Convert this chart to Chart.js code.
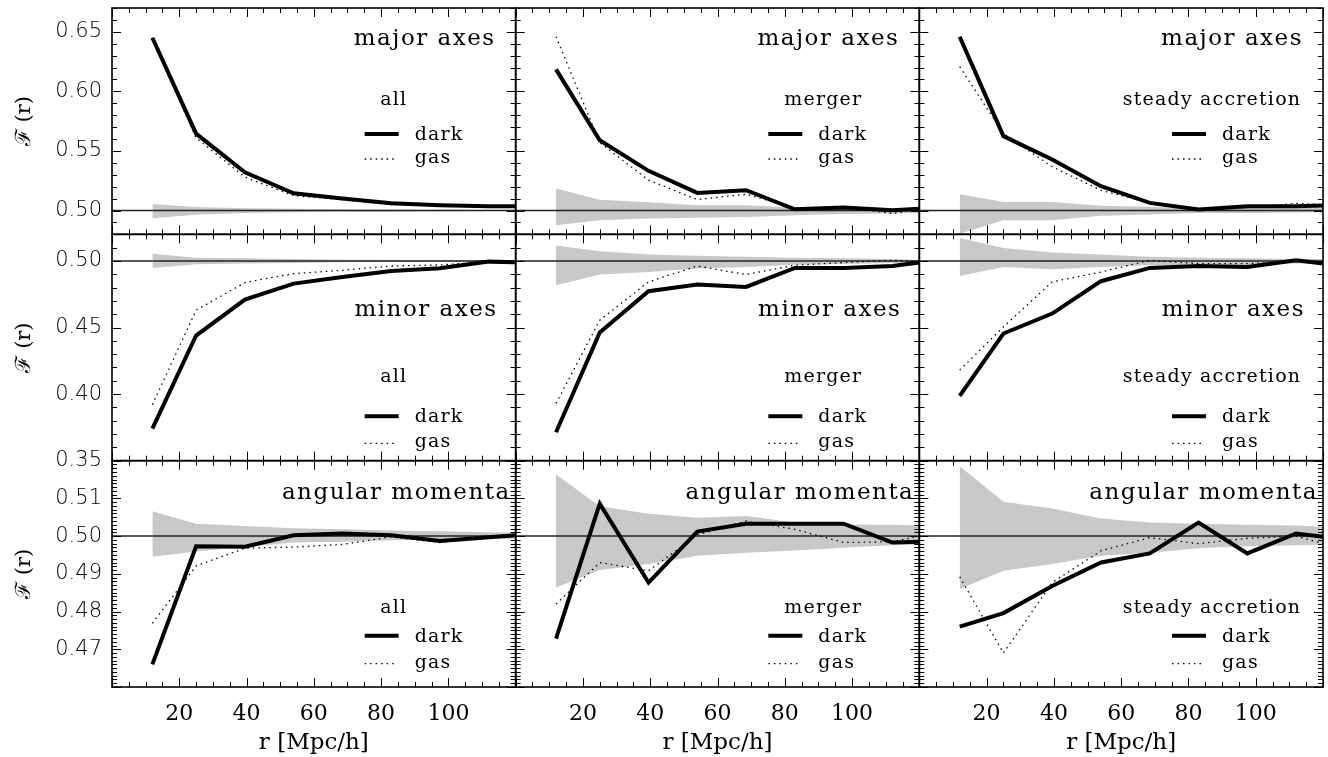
<!DOCTYPE html>
<html>
<head>
<meta charset="utf-8">
<title>Alignment profiles F(r)</title>
<script src="https://cdn.jsdelivr.net/npm/chart.js@4.4.1/dist/chart.umd.min.js"></script>
<style>
  html, body { margin: 0; padding: 0; background: #fff; }
  #wrap { position: relative; width: 1328px; height: 757px; }
</style>
</head>
<body>
<div id="wrap"><canvas id="alignChart" width="1328" height="757"></canvas></div>
<script>
// bin centres in Mpc/h (last entry is the value at the right frame)
const rValues = [12, 25, 39.5, 54, 68.5, 83, 97.5, 112, 120];
const rLimits = [0, 120];
const isotropic = 0.5;

// major axes
const majorAllDark = [0.645, 0.5645, 0.532, 0.5145, 0.510, 0.506, 0.5045, 0.5035, 0.5035];
const majorAllGas = [0.643, 0.561, 0.528, 0.5125, 0.509, 0.505, 0.504, 0.503, 0.503];
const majorAllHi = [0.5055, 0.503, 0.502, 0.5015, 0.501, 0.5008, 0.5006, 0.5005, 0.5005];
const majorAllLo = [0.4935, 0.4965, 0.498, 0.4985, 0.499, 0.499, 0.4993, 0.4995, 0.4995];

const majorMergerDark = [0.6185, 0.559, 0.5333, 0.5148, 0.517, 0.501, 0.5025, 0.5003, 0.5015];
const majorMergerGas = [0.6459, 0.557, 0.5255, 0.5092, 0.5137, 0.502, 0.503, 0.4975, 0.501];
const majorMergerHi = [0.5185, 0.509, 0.507, 0.5045, 0.5045, 0.5025, 0.503, 0.502, 0.501];
const majorMergerLo = [0.4876, 0.4918, 0.4932, 0.494, 0.4946, 0.496, 0.497, 0.4975, 0.498];

const majorSteadyDark = [0.6459, 0.5624, 0.5428, 0.5204, 0.5064, 0.5008, 0.5036, 0.5036, 0.5042];
const majorSteadyGas = [0.6207, 0.5647, 0.5367, 0.517, 0.5064, 0.5017, 0.5025, 0.506, 0.505];
const majorSteadyHi = [0.5137, 0.5072, 0.5072, 0.504, 0.5031, 0.5017, 0.5025, 0.5025, 0.5028];
const majorSteadyLo = [0.4805, 0.4918, 0.4918, 0.4955, 0.4966, 0.498, 0.498, 0.4983, 0.4986];

// minor axes
const minorAllDark = [0.374, 0.444, 0.471, 0.483, 0.488, 0.4925, 0.4945, 0.4995, 0.499];
const minorAllGas = [0.392, 0.463, 0.4838, 0.4905, 0.493, 0.4962, 0.497, 0.4995, 0.4995];
const minorAllHi = [0.5055, 0.5025, 0.502, 0.5015, 0.501, 0.5008, 0.5006, 0.5005, 0.5004];
const minorAllLo = [0.4947, 0.4975, 0.498, 0.4985, 0.499, 0.4992, 0.4994, 0.4995, 0.4996];

const minorMergerDark = [0.3713, 0.4463, 0.4773, 0.4823, 0.4805, 0.4948, 0.4948, 0.4962, 0.4988];
const minorMergerGas = [0.393, 0.4555, 0.4843, 0.4962, 0.4898, 0.4968, 0.4988, 0.5005, 0.4995];
const minorMergerHi = [0.5117, 0.5072, 0.5048, 0.504, 0.5032, 0.5025, 0.502, 0.5015, 0.5008];
const minorMergerLo = [0.4817, 0.4898, 0.4917, 0.4943, 0.4955, 0.4972, 0.4977, 0.4985, 0.4988];

const minorSteadyDark = [0.3987, 0.4455, 0.4605, 0.4848, 0.4948, 0.4962, 0.4955, 0.5005, 0.498];
const minorSteadyGas = [0.418, 0.4505, 0.4843, 0.4917, 0.5005, 0.498, 0.498, 0.4995, 0.4995];
const minorSteadyHi = [0.5172, 0.5097, 0.5063, 0.5048, 0.5032, 0.5025, 0.502, 0.5015, 0.5015];
const minorSteadyLo = [0.4887, 0.4955, 0.4938, 0.4955, 0.4968, 0.4972, 0.4972, 0.498, 0.4983];

// angular momenta
const angAllDark = [0.466, 0.4973, 0.4972, 0.5002, 0.5007, 0.5002, 0.4987, 0.4997, 0.5002];
const angAllGas = [0.4769, 0.4921, 0.4968, 0.4971, 0.4978, 0.4998, 0.4983, 0.4997, 0.5];
const angAllHi = [0.5066, 0.5033, 0.5027, 0.5021, 0.5018, 0.5015, 0.5013, 0.501, 0.5009];
const angAllLo = [0.4945, 0.4959, 0.4971, 0.4983, 0.4985, 0.4989, 0.499, 0.4992, 0.4993];

const angMergerDark = [0.4728, 0.5086, 0.4877, 0.5012, 0.5033, 0.5033, 0.5033, 0.4983, 0.4985];
const angMergerGas = [0.482, 0.493, 0.4908, 0.5003, 0.504, 0.5018, 0.4983, 0.4985, 0.5];
const angMergerHi = [0.5163, 0.5079, 0.5059, 0.5049, 0.5053, 0.5036, 0.5031, 0.503, 0.5028];
const angMergerLo = [0.4864, 0.491, 0.4926, 0.4948, 0.4956, 0.4962, 0.4969, 0.4976, 0.4978];

const angSteadyDark = [0.476, 0.4796, 0.4868, 0.493, 0.4954, 0.5036, 0.4954, 0.5007, 0.4998];
const angSteadyGas = [0.4892, 0.469, 0.4877, 0.4961, 0.4996, 0.498, 0.4994, 0.5, 0.498];
const angSteadyHi = [0.5185, 0.5091, 0.5073, 0.5047, 0.5036, 0.5033, 0.503, 0.5028, 0.5025];
const angSteadyLo = [0.486, 0.4908, 0.4926, 0.4948, 0.4956, 0.4968, 0.4973, 0.4976, 0.4978];

const rowNames = ['major axes', 'minor axes', 'angular momenta'];
const colNames = ['all', 'merger', 'steady accretion'];
const xTickLabels = [20, 40, 60, 80, 100];
const yTickLabels = [
  [0.50, 0.55, 0.60, 0.65],
  [0.35, 0.40, 0.45, 0.50],
  [0.47, 0.48, 0.49, 0.50, 0.51],
];
const yRanges = [[0.48, 0.67], [0.35, 0.52], [0.46, 0.52]];

// [dark, gas, band top, band bottom] for each row / column
const panelSeries = [
  [[majorAllDark, majorAllGas, majorAllHi, majorAllLo],
   [majorMergerDark, majorMergerGas, majorMergerHi, majorMergerLo],
   [majorSteadyDark, majorSteadyGas, majorSteadyHi, majorSteadyLo]],
  [[minorAllDark, minorAllGas, minorAllHi, minorAllLo],
   [minorMergerDark, minorMergerGas, minorMergerHi, minorMergerLo],
   [minorSteadyDark, minorSteadyGas, minorSteadyHi, minorSteadyLo]],
  [[angAllDark, angAllGas, angAllHi, angAllLo],
   [angMergerDark, angMergerGas, angMergerHi, angMergerLo],
   [angSteadyDark, angSteadyGas, angSteadyHi, angSteadyLo]],
];

// tick spacing (major / minor) of each row, x spacing shared
const yTickSteps = [[0.05, 0.01], [0.05, 0.01], [0.01, 0.001]];
const xTickSteps = [20, 5];

// text placement inside a panel, offsets from the panel's top / right edge
const rowText = [
  {title: 37, sub: 97, dark: 132, gas: 155, titleRight: 20},
  {title: 82, sub: 148, dark: 188, gas: 213, titleRight: 18},
  {title: 38, sub: 152, dark: 181, gas: 207, titleRight: 5},
];
const subCenter = [122, 96, 111];

const SERIF = '"DejaVu Serif", "Liberation Serif", serif';
const SANS = '"DejaVu Sans", "Liberation Sans", sans-serif';

const pts = ys => rValues.map((x, i) => ({x, y: ys[i]}));

const datasets = [];
panelSeries.forEach((row, r) => row.forEach(([dark, gas, hi, lo], c) => {
  const axes = {xAxisID: 'x' + c, yAxisID: 'y' + r};
  datasets.push({label: 'dark', data: pts(dark), borderColor: '#000', borderWidth: 4,
    borderJoinStyle: 'miter', order: 0, ...axes});
  datasets.push({label: 'gas', data: pts(gas), borderColor: '#000', borderWidth: 1.3,
    borderDash: [1.5, 4], order: 1, ...axes});
  datasets.push({label: 'isotropic', data: rLimits.map(x => ({x, y: isotropic})),
    borderColor: '#222', borderWidth: 1.5, order: 2, ...axes});
  datasets.push({label: 'band', data: pts(hi), borderColor: 'rgba(0,0,0,0)', borderWidth: 0,
    backgroundColor: '#c8c8c8', fill: '+1', order: 3, ...axes});
  datasets.push({label: 'band low', data: pts(lo), borderColor: 'rgba(0,0,0,0)', borderWidth: 0,
    fill: false, order: 4, ...axes});
}));

const scales = {};
colNames.forEach((_, c) => {
  scales['x' + c] = {
    type: 'linear', position: 'bottom', stack: 'cols',
    min: rLimits[0], max: rLimits[1],
    afterBuildTicks: s => { s.ticks = xTickLabels.map(v => ({value: v})); },
    afterFit: s => { s.height = 70; s.paddingLeft = 0; s.paddingRight = 0; },
    grid: {display: false, drawTicks: false},
    border: {display: false},
    ticks: {padding: 14, autoSkip: false, maxRotation: 0, color: '#000',
      font: {family: SERIF, size: 22}},
    title: {display: true, text: 'r [Mpc/h]', color: '#000', padding: {top: 0, bottom: 0},
      font: {family: SERIF, size: 23}},
  };
});
rowNames.forEach((_, r) => {
  scales['y' + r] = {
    type: 'linear', position: 'left', stack: 'rows', weight: 3 - r,
    min: yRanges[r][0], max: yRanges[r][1],
    afterBuildTicks: s => { s.ticks = yTickLabels[r].map(v => ({value: v})); },
    afterFit: s => { s.width = 100; s.paddingTop = 0; s.paddingBottom = 0; },
    grid: {display: false, drawTicks: false},
    border: {display: false},
    ticks: {padding: 10, autoSkip: false, color: '#000',
      font: {family: SANS, size: 21, weight: 200},
      callback: v => v.toFixed(2)},
    title: {display: true, text: 'ℱ (r)', color: '#000', padding: {top: 0, bottom: 0},
      font: {family: SERIF, size: 21}},
  };
});

function steps(min, max, step) {
  const out = [];
  const n0 = Math.ceil(min / step - 1e-6), n1 = Math.floor(max / step + 1e-6);
  for (let n = n0; n <= n1; n++) out.push(n * step);
  return out;
}
const onStep = (v, step) => Math.abs(v / step - Math.round(v / step)) < 1e-6;

// frame with inward ticks on all four sides of every panel
function drawFrame(ctx, xs, ys, r) {
  const [yMaj, yMin] = yTickSteps[r];
  const [xMaj, xMin] = xTickSteps;
  const {left, right} = xs, {top, bottom} = ys;
  ctx.lineWidth = 1;
  ctx.beginPath();
  for (const v of steps(xs.min, xs.max, xMin)) {
    const px = Math.round(xs.getPixelForValue(v)) + 0.5;
    const len = onStep(v, xMaj) ? 9 : 5;
    ctx.moveTo(px, bottom); ctx.lineTo(px, bottom - len);
    ctx.moveTo(px, top); ctx.lineTo(px, top + len);
  }
  for (const v of steps(ys.min, ys.max, yMin)) {
    const py = Math.round(ys.getPixelForValue(v)) + 0.5;
    const len = onStep(v, yMaj) ? 9 : 5;
    ctx.moveTo(left, py); ctx.lineTo(left + len, py);
    ctx.moveTo(right, py); ctx.lineTo(right - len, py);
  }
  ctx.stroke();
  ctx.lineWidth = 1.6;
  ctx.strokeRect(left, top, right - left, bottom - top);
}

function drawLabels(ctx, xs, ys, r, c) {
  const t = rowText[r];
  const R = xs.right, T = ys.top;
  ctx.fillStyle = '#000';
  ctx.textBaseline = 'alphabetic';

  ctx.font = '23px ' + SERIF;
  ctx.letterSpacing = '1.5px';
  ctx.textAlign = 'right';
  ctx.fillText(rowNames[r], R - t.titleRight, T + t.title);

  ctx.font = '19px ' + SERIF;
  ctx.letterSpacing = '1.2px';
  ctx.textAlign = 'center';
  ctx.fillText(colNames[c], R - subCenter[c], T + t.sub);

  ctx.textAlign = 'left';
  ctx.fillText('dark', R - 101, T + t.dark);
  ctx.fillText('gas', R - 101, T + t.gas);
  ctx.letterSpacing = '0px';

  ctx.strokeStyle = '#000';
  ctx.lineWidth = 4;
  ctx.beginPath();
  ctx.moveTo(R - 151, T + t.dark - 6); ctx.lineTo(R - 117, T + t.dark - 6);
  ctx.stroke();
  ctx.lineWidth = 1.3;
  ctx.setLineDash([1.5, 4]);
  ctx.beginPath();
  ctx.moveTo(R - 151, T + t.gas - 4); ctx.lineTo(R - 121, T + t.gas - 4);
  ctx.stroke();
  ctx.setLineDash([]);
}

const panelDecor = {
  id: 'panelDecor',
  afterDatasetsDraw(chart) {
    const ctx = chart.ctx;
    ctx.save();
    ctx.strokeStyle = '#000';
    rowNames.forEach((_, r) => colNames.forEach((_, c) => {
      const xs = chart.scales['x' + c], ys = chart.scales['y' + r];
      drawFrame(ctx, xs, ys, r);
      drawLabels(ctx, xs, ys, r, c);
    }));
    ctx.restore();
  },
};

new Chart(document.getElementById('alignChart'), {
  type: 'line',
  data: {datasets},
  options: {
    responsive: false,
    animation: false,
    devicePixelRatio: 1,
    layout: {padding: {left: 12, top: 8, right: 5, bottom: 0}},
    elements: {point: {radius: 0, hoverRadius: 0}, line: {tension: 0}},
    plugins: {legend: {display: false}, tooltip: {enabled: false}},
    scales,
  },
  plugins: [panelDecor],
});
</script>
</body>
</html>
